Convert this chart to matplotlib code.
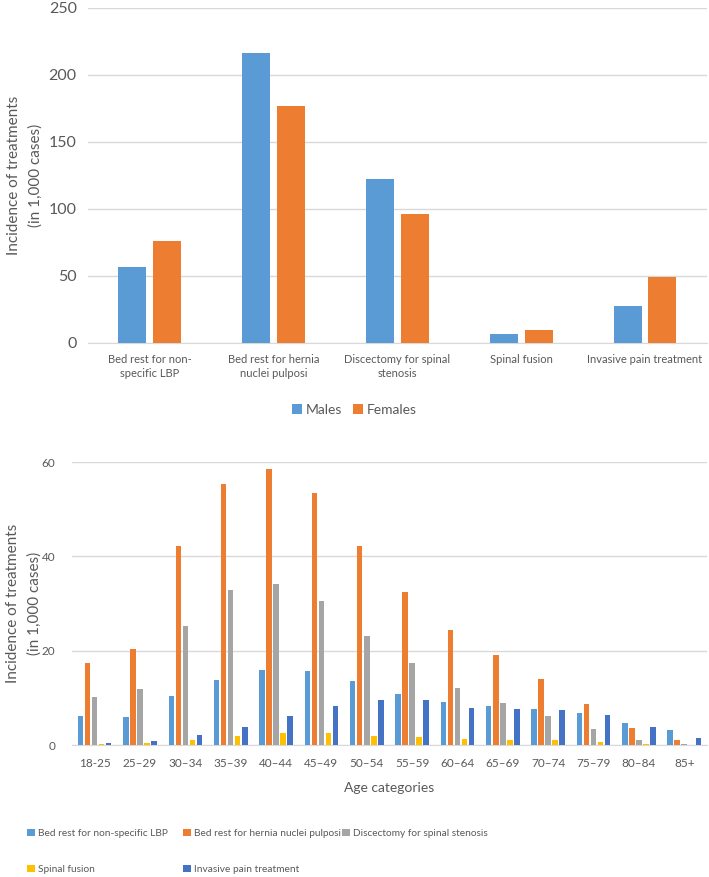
import numpy as np
import matplotlib.pyplot as plt

plt.rcParams['font.family'] = ['Lato', 'DejaVu Sans']

# datos grafica 1
treatments = ["Bed rest for non-\nspecific LBP", "Bed rest for hernia\nnuclei pulposi",
              "Discectomy for spinal\nstenosis", "Spinal fusion", "Invasive pain treatment"]
males = [56.5, 216, 122, 7, 27.6]
females = [76, 177, 96, 10, 49.5]

# datos grafica 2
ages = ["18-25", "25\u201329", "30\u201334", "35\u201339", "40\u201344", "45\u201349", "50\u201354",
        "55\u201359", "60\u201364", "65\u201369", "70\u201374", "75\u201379", "80\u201384", "85+"]
lbp = [6.2, 6.0, 10.4, 13.7, 16.0, 15.6, 13.5, 10.9, 9.2, 8.3, 7.7, 6.8, 4.7, 3.2]
hernia = [17.3, 20.3, 42.2, 55.3, 58.6, 53.5, 42.2, 32.4, 24.3, 19.2, 14.1, 8.75, 3.6, 1.1]
discectomy = [10.1, 11.8, 25.2, 32.8, 34.2, 30.5, 23.2, 17.3, 12.2, 9.0, 6.2, 3.5, 1.1, 0.2]
fusion = [0.2, 0.4, 1.1, 2.0, 2.6, 2.6, 1.9, 1.7, 1.3, 1.1, 1.1, 0.6, 0.2, 0.0]
invasive = [0.4, 0.9, 2.2, 3.9, 6.2, 8.3, 9.5, 9.5, 7.9, 7.7, 7.5, 6.4, 3.9, 1.5]
series_names = ["Bed rest for non-specific LBP", "Bed rest for hernia nuclei pulposi",
                "Discectomy for spinal stenosis", "Spinal fusion", "Invasive pain treatment"]

c_blue = "#5B9BD5"
c_orange = "#ED7D31"
c_gray = "#A5A5A5"
c_yellow = "#FFC000"
c_dblue = "#4472C4"
txt = "#595959"
gridc = "#D9D9D9"

fig = plt.figure(figsize=(7.09, 8.77), dpi=100)

# grafica 1
ax1 = fig.add_axes([0.124, 0.609, 0.873, 0.382])
x = np.arange(len(treatments))
w = 0.226
b1 = ax1.bar(x - 0.14, males, w, color=c_blue, zorder=3)
b2 = ax1.bar(x + 0.14, females, w, color=c_orange, zorder=3)
ax1.set_xlim(-0.5, len(treatments) - 0.5)
ax1.set_ylim(0, 250)
ax1.set_yticks([0, 50, 100, 150, 200, 250])
ax1.set_xticks(x)
ax1.set_xticklabels(treatments, fontsize=8, color=txt, linespacing=1.3)
ax1.tick_params(axis='y', labelsize=11.5, colors=txt, length=0, pad=8)
ax1.tick_params(axis='x', length=0, pad=8)
ax1.grid(axis='y', color=gridc, linewidth=1, zorder=0)
for s in ['top', 'right', 'left']:
    ax1.spines[s].set_visible(False)
ax1.spines['bottom'].set_color(gridc)
ax1.set_ylabel("Incidence of treatments\n(in 1,000 cases)", fontsize=11, color=txt,
               labelpad=4, linespacing=1.65)
fig.legend([b1, b2], ["Males", "Females"], loc='center', bbox_to_anchor=(0.5, 1 - 410 / 877),
           ncol=2, frameon=False, fontsize=10, handlelength=0.7, handleheight=0.7,
           handletextpad=0.3, columnspacing=0.8, labelcolor=txt)

# grafica 2
ax2 = fig.add_axes([0.1016, 0.1505, 0.8954, 0.3225])
x2 = np.arange(len(ages))
bw = 0.12
step = 0.155
datos = [lbp, hernia, discectomy, fusion, invasive]
colores = [c_blue, c_orange, c_gray, c_yellow, c_dblue]
barras = []
for i in range(5):
    b = ax2.bar(x2 + (i - 2) * step, datos[i], bw, color=colores[i], zorder=3)
    barras.append(b)
ax2.set_xlim(-0.5, len(ages) - 0.5)
ax2.set_ylim(0, 60)
ax2.set_yticks([0, 20, 40, 60])
ax2.set_xticks(x2)
ax2.set_xticklabels(ages, fontsize=8.5, color=txt)
ax2.tick_params(axis='y', labelsize=8.5, colors=txt, length=0, pad=12)
ax2.tick_params(axis='x', length=0, pad=9)
ax2.grid(axis='y', color=gridc, linewidth=1, zorder=0)
for s in ['top', 'right', 'left']:
    ax2.spines[s].set_visible(False)
ax2.spines['bottom'].set_color(gridc)
ax2.set_ylabel("Incidence of treatments\n(in 1,000 cases)", fontsize=11, color=txt,
               labelpad=0, linespacing=1.65)
ax2.set_xlabel("Age categories", fontsize=10, color=txt, labelpad=10)

# leyenda abajo, una por columna
columnas = [([0, 3], 27), ([1, 4], 183), ([2], 342)]
for idx, xpix in columnas:
    fig.legend([barras[i] for i in idx], [series_names[i] for i in idx],
               loc='upper left', bbox_to_anchor=(xpix / 709, 1 - 829 / 877), frameon=False,
               fontsize=7.3, handlelength=0.75, handleheight=0.75, handletextpad=0.3,
               labelspacing=2.6, labelcolor=txt, borderpad=0, borderaxespad=0)

plt.savefig("out.png", dpi=100)
